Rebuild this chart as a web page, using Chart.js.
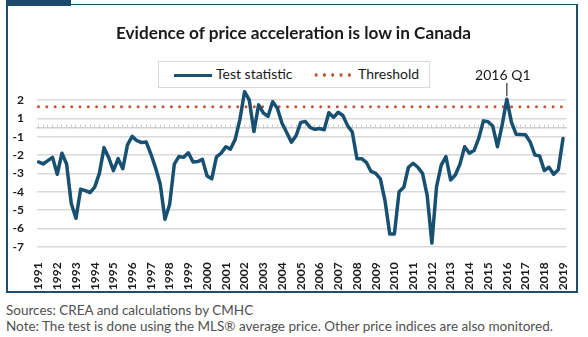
<!DOCTYPE html>
<html><head><meta charset="utf-8">
<script src="https://cdn.jsdelivr.net/npm/chart.js@4.4.0/dist/chart.umd.min.js"></script>
<style>
html,body{margin:0;padding:0;background:#fff;width:588px;height:337px;overflow:hidden;font-family:Lato,"Open Sans",sans-serif;}
#tab{position:absolute;left:6px;top:0;width:65px;height:6px;background:#1b4b6b;}
#frame{position:absolute;left:6px;top:4px;width:568px;height:286px;border:2px solid #1d4e6c;border-top-width:1.5px;}
#wrap{position:absolute;left:0;top:0;width:588px;height:295px;}
#title{position:absolute;left:0;top:22px;width:587px;text-align:center;font-size:17.2px;line-height:22px;font-weight:bold;color:#1a1a1a;white-space:nowrap;}
#legend{position:absolute;left:158px;top:61px;width:270px;height:25px;border:1px solid #d9d9d9;background:#fff;}
#legend .sw-line{position:absolute;left:15px;top:11.5px;width:38px;height:3.5px;background:#175070;}
#legend .sw-dot{position:absolute;left:153px;top:11px;width:41.5px;height:4px;background-image:radial-gradient(circle at 4.15px 2px,#c4522f 1.5px,rgba(255,255,255,0) 1.9px);background-size:8.3px 4px;background-repeat:repeat-x;}
#legend .txt{position:absolute;top:3px;font-size:14px;line-height:18px;color:#1a1a1a;white-space:nowrap;}
.note{position:absolute;left:6px;line-height:16px;color:#505050;white-space:nowrap;}
</style>
</head><body>
<div id="tab"></div>
<div id="frame"></div>
<div id="wrap"><canvas id="c" width="588" height="295"></canvas></div>
<div id="title"></div>
<div id="legend">
  <div class="sw-line"></div><div class="txt" id="lg1" style="left:57px"></div>
  <div class="sw-dot"></div><div class="txt" id="lg2" style="left:199px"></div>
</div>
<div class="note" style="top:302px;font-size:13.5px">Sources: CREA and calculations by CMHC</div>
<div class="note" style="top:318px;font-size:13.5px">Note: The test is done using the MLS® average price. Other price indices are also monitored.</div>
<script>
// ---- data ----
const chartTitle = 'Evidence of price acceleration is low in Canada';
const seriesNames = ['Test statistic', 'Threshold'];
const yearLabels = ['1991','1992','1993','1994','1995','1996','1997','1998','1999','2000',
  '2001','2002','2003','2004','2005','2006','2007','2008','2009','2010',
  '2011','2012','2013','2014','2015','2016','2017','2018','2019'];
const yTickLabels = ['2','1','-1','-2','-3','-4','-5','-6','-7'];
// quarterly, 1991 Q1 .. 2019 Q1
const testStatistic = [
  -2.38,-2.49,-2.31,-2.13, -3.05,-1.91,-2.49,-4.64, -5.45,-3.87,-3.94,-4.05,
  -3.75,-3.0,-1.6,-2.15, -2.85,-2.2,-2.75,-1.45, -0.97,-1.22,-1.32,-1.29,
  -1.95,-2.7,-3.6,-5.5, -4.7,-2.5,-2.08,-2.13, -1.88,-2.38,-2.36,-2.24,
  -3.15,-3.3,-2.1,-1.9, -1.55,-1.68,-1.15,0.85, 2.45,2.0,-0.45,1.73,
  1.3,1.1,1.9,1.55, 0.45,-0.55,-1.3,-0.9, 0.55,0.65,0.0,-0.2,
  -0.12,-0.25,1.3,1.05, 1.33,1.15,0.2,-0.5, -2.2,-2.2,-2.4,-2.9,
  -3.0,-3.3,-4.5,-6.3, -6.3,-4.0,-3.76,-2.67, -2.45,-2.67,-3.0,-4.2,
  -6.8,-3.73,-2.55,-2.09, -3.36,-3.09,-2.5,-1.55, -1.9,-1.76,-1.1,0.72,
  0.62,0.15,-1.55,0.25, 2.04,0.55,-0.75,-0.78, -0.8,-1.3,-2.0,-2.05,
  -2.85,-2.67,-3.05,-2.8, -1.1
];
const thresholdValue = 1.63;
const annotationText = '2016 Q1';
const annotationTime = 2016;

document.getElementById('title').textContent = chartTitle;
document.getElementById('lg1').textContent = seriesNames[0];
document.getElementById('lg2').textContent = seriesNames[1];

// axis is compressed between 1 and -1 in the original chart
function toPlot(v){ return v >= 1 ? v : (v <= -1 ? v + 1 : (v + 1) / 2); }

const startYear = parseFloat(yearLabels[0]);
const endYear = parseFloat(yearLabels[yearLabels.length - 1]);
const times = testStatistic.map((_, k) => startYear + k / 4);
const lineData = testStatistic.map((v, k) => ({x: times[k], y: toPlot(v)}));
const thrData = [{x: startYear, y: toPlot(thresholdValue)}, {x: endYear, y: toPlot(thresholdValue)}];

const FONT = 'Lato';
const annotate = {
  id: 'annotate',
  afterDatasetsDraw(chart) {
    const meta = chart.getDatasetMeta(0);
    const idx = times.findIndex(t => Math.abs(t - annotationTime) < 1e-6);
    const pt = meta.data[idx];
    const ctx = chart.ctx;
    ctx.save();
    ctx.strokeStyle = '#5a5a5a';
    ctx.lineWidth = 1.5;
    ctx.beginPath();
    ctx.moveTo(pt.x, 83);
    ctx.lineTo(pt.x, pt.y - 3);
    ctx.stroke();
    ctx.font = '14px ' + FONT;
    ctx.fillStyle = '#1a1a1a';
    ctx.textAlign = 'center';
    ctx.textBaseline = 'middle';
    ctx.fillText(annotationText, pt.x - 4, 75);
    ctx.restore();
  }
};

new Chart(document.getElementById('c'), {
  type: 'line',
  data: {
    datasets: [
      {label: seriesNames[0], data: lineData, borderColor: '#175070', borderWidth: 3.5,
       pointRadius: 0, tension: 0, borderJoinStyle: 'round', borderCapStyle: 'round', order: 1},
      {label: seriesNames[1], data: thrData, borderColor: '#c4522f', borderWidth: 3,
       borderDash: [0, 8.3], borderCapStyle: 'round', pointRadius: 0, order: 2}
    ]
  },
  options: {
    responsive: false, animation: false, devicePixelRatio: 1,
    layout: {padding: {left: 10, right: 22, top: 88, bottom: 0}},
    plugins: {
      legend: {display: false},
      tooltip: {enabled: false},
      title: {display: false}
    },
    scales: {
      x: {
        type: 'linear', min: startYear - 0.08, max: endYear + 0.16,
        grid: {display: false}, border: {display: false},
        afterBuildTicks: s => { s.ticks = yearLabels.map(l => ({value: parseFloat(l)})); },
        afterFit: s => { s.height = 44.6; },
        ticks: {autoSkip: false, maxRotation: 90, minRotation: 90, padding: 4, color: '#1a1a1a',
          font: {family: FONT, size: 12, weight: 'bold'},
          callback: (v, i) => yearLabels[i]}
      },
      x2: {
        type: 'linear', position: {y: toPlot(0)}, min: startYear - 0.08, max: endYear + 0.16,
        afterBuildTicks: s => { s.ticks = times.map(t => ({value: t})); },
        grid: {drawOnChartArea: false, drawTicks: true, tickLength: -4, color: '#cfcfcf', lineWidth: 1},
        border: {display: true, color: '#cfcfcf', width: 1.5},
        ticks: {display: false, autoSkip: false}
      },
      y: {
        type: 'linear', min: -6.2, max: 2.65,
        afterBuildTicks: s => { s.ticks = yTickLabels.map(l => ({value: toPlot(parseFloat(l))})); },
        afterFit: s => { s.width = 27; },
        grid: {color: '#d9d9d9', lineWidth: 1.5, drawTicks: false},
        border: {display: false},
        ticks: {padding: 13, color: '#1a1a1a', font: {family: FONT, size: 12, weight: 'bold'},
          callback: (v, i) => yTickLabels[i]}
      }
    }
  },
  plugins: [annotate]
});
</script>
</body></html>
